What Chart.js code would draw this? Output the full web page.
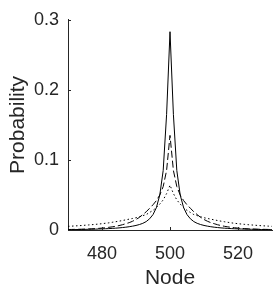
<!DOCTYPE html>
<html>
<head>
<meta charset="utf-8">
<script src="https://cdn.jsdelivr.net/npm/chart.js@4/dist/chart.umd.min.js"></script>
<style>
  html, body { margin: 0; padding: 0; background: #fff; }
  #wrap { width: 274px; height: 291px; }
</style>
</head>
<body>
<div id="wrap"><canvas id="chart"></canvas></div>
<script>
const nodes = [470, 471, 472, 473, 474, 475, 476, 477, 478, 479,
               480, 481, 482, 483, 484, 485, 486, 487, 488, 489,
               490, 491, 492, 493, 494, 495, 496, 497, 498, 499,
               500,
               501, 502, 503, 504, 505, 506, 507, 508, 509, 510,
               511, 512, 513, 514, 515, 516, 517, 518, 519, 520,
               521, 522, 523, 524, 525, 526, 527, 528, 529, 530];

// solid line
const probSolid = [0.0005, 0.0005, 0.0006, 0.0007, 0.0008, 0.0009, 0.0010, 0.0011, 0.0012, 0.0014,
                   0.0016, 0.0018, 0.0020, 0.0023, 0.0026, 0.0030, 0.0035, 0.0040, 0.0047, 0.0055,
                   0.0065, 0.0078, 0.0095, 0.0120, 0.0160, 0.0220, 0.0320, 0.0500, 0.0850, 0.1650,
                   0.2830,
                   0.1650, 0.0850, 0.0500, 0.0320, 0.0220, 0.0160, 0.0120, 0.0095, 0.0078, 0.0065,
                   0.0055, 0.0047, 0.0040, 0.0035, 0.0030, 0.0026, 0.0023, 0.0020, 0.0018, 0.0016,
                   0.0014, 0.0012, 0.0011, 0.0010, 0.0009, 0.0008, 0.0007, 0.0006, 0.0005, 0.0005];

// dashed line
const probDashed = [0.0007, 0.0008, 0.0009, 0.0010, 0.0011, 0.0013, 0.0015, 0.0017, 0.0020, 0.0023,
                    0.0027, 0.0032, 0.0038, 0.0045, 0.0053, 0.0063, 0.0075, 0.0090, 0.0105, 0.0125,
                    0.0150, 0.0180, 0.0220, 0.0260, 0.0310, 0.0360, 0.0420, 0.0500, 0.0620, 0.0850,
                    0.1350,
                    0.0850, 0.0620, 0.0500, 0.0420, 0.0360, 0.0310, 0.0260, 0.0220, 0.0180, 0.0150,
                    0.0125, 0.0105, 0.0090, 0.0075, 0.0063, 0.0053, 0.0045, 0.0038, 0.0032, 0.0027,
                    0.0023, 0.0020, 0.0017, 0.0015, 0.0013, 0.0011, 0.0010, 0.0009, 0.0008, 0.0007];

// dotted line
const probDotted = [0.0052, 0.0055, 0.0058, 0.0061, 0.0064, 0.0068, 0.0072, 0.0076, 0.0080, 0.0085,
                    0.0090, 0.0096, 0.0102, 0.0110, 0.0118, 0.0126, 0.0135, 0.0145, 0.0155, 0.0165,
                    0.0175, 0.0190, 0.0205, 0.0220, 0.0250, 0.0280, 0.0320, 0.0370, 0.0430, 0.0520,
                    0.0640,
                    0.0520, 0.0430, 0.0370, 0.0320, 0.0280, 0.0250, 0.0220, 0.0205, 0.0190, 0.0175,
                    0.0165, 0.0155, 0.0145, 0.0135, 0.0126, 0.0118, 0.0110, 0.0102, 0.0096, 0.0090,
                    0.0085, 0.0080, 0.0076, 0.0072, 0.0068, 0.0064, 0.0061, 0.0058, 0.0055, 0.0052];

const xTicks = [480, 500, 520];
const yTicks = [0, 0.1, 0.2, 0.3];

const axisColor = '#262626';
const fontFamily = '"Liberation Sans", Arial, Helvetica, sans-serif';

function toPoints(values) {
    return nodes.map((n, i) => ({ x: n, y: values[i] }));
}

// MATLAB style inward tick marks
const inwardTicks = {
    id: 'inwardTicks',
    afterDraw(chart) {
        const ctx = chart.ctx;
        const xs = chart.scales.x;
        const ys = chart.scales.y;
        ctx.save();
        ctx.strokeStyle = axisColor;
        ctx.lineWidth = 1;
        ctx.beginPath();
        xTicks.forEach(v => {
            const px = Math.round(xs.getPixelForValue(v)) + 0.5;
            ctx.moveTo(px, ys.bottom);
            ctx.lineTo(px, ys.bottom - 3);
        });
        yTicks.forEach(v => {
            const py = Math.round(ys.getPixelForValue(v)) + 0.5;
            ctx.moveTo(xs.left, py);
            ctx.lineTo(xs.left + 3, py);
        });
        ctx.stroke();
        ctx.restore();
    }
};

new Chart(document.getElementById('chart'), {
    type: 'line',
    data: {
        datasets: [
            { data: toPoints(probSolid), borderColor: '#000', borderWidth: 1, pointRadius: 0, tension: 0 },
            { data: toPoints(probDashed), borderColor: '#000', borderWidth: 1, borderDash: [7, 3], pointRadius: 0, tension: 0 },
            { data: toPoints(probDotted), borderColor: '#000', borderWidth: 1, borderDash: [1.5, 2.5], pointRadius: 0, tension: 0 }
        ]
    },
    options: {
        responsive: true,
        maintainAspectRatio: false,
        animation: false,
        layout: { padding: { top: 13, right: 2, left: 0, bottom: 0 } },
        plugins: { legend: { display: false }, tooltip: { enabled: false } },
        scales: {
            x: {
                type: 'linear',
                min: 470,
                max: 530,
                afterBuildTicks: scale => { scale.ticks = xTicks.map(v => ({ value: v })); },
                afterFit: scale => { scale.height = 61; },
                grid: { display: false, drawTicks: false },
                border: { color: axisColor, width: 1 },
                ticks: { color: '#262626', padding: 13, maxRotation: 0, font: { family: fontFamily, size: 18 } },
                title: { display: true, text: 'Node', color: '#262626', padding: { top: 3, bottom: 0 }, font: { family: fontFamily, size: 21 } }
            },
            y: {
                min: 0,
                max: 0.3,
                afterBuildTicks: scale => { scale.ticks = yTicks.map(v => ({ value: v })); },
                afterFit: scale => { scale.width = 68; },
                grid: { display: false, drawTicks: false },
                border: { color: axisColor, width: 1 },
                ticks: { color: '#262626', padding: 9, font: { family: fontFamily, size: 18 },
                         callback: v => String(v) },
                title: { display: true, text: 'Probability', color: '#262626', padding: { top: 6, bottom: 2 }, font: { family: fontFamily, size: 21 } }
            }
        }
    },
    plugins: [inwardTicks]
});
</script>
</body>
</html>
